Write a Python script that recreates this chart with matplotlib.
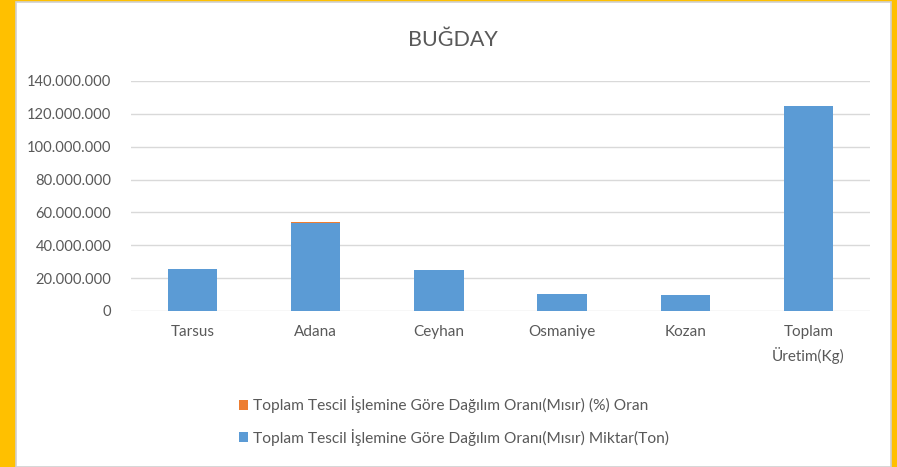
import matplotlib.pyplot as plt
from matplotlib.patches import Rectangle

plt.rcParams['font.family'] = ['Lato', 'DejaVu Sans']

# data
categories = ['Tarsus', 'Adana', 'Ceyhan', 'Osmaniye', 'Kozan', 'Toplam\nÜretim(Kg)']
miktar = [25600000, 53600000, 25000000, 10400000, 9800000, 124800000]
oran = [0, 300000, 0, 0, 0, 0]
yticks = [0, 20000000, 40000000, 60000000, 80000000, 100000000, 120000000, 140000000]

blue = '#5B9BD5'
orange = '#ED7D31'
txt = '#595959'
grid = '#D9D9D9'

fig = plt.figure(figsize=(8.97, 4.67), dpi=100)
fig.patch.set_facecolor('#FFC000')

# white chart panel inside the yellow frame
W, H = 897, 467
panel = Rectangle((16 / W, 0), (891 - 16) / W, (465 - 0) / H, transform=fig.transFigure,
                  facecolor='white', edgecolor='#D0D0D0', linewidth=1.2, zorder=-10)
fig.patches.append(panel)

ax = fig.add_axes([131 / W, 1 - 311 / H, (870 - 131) / W, (311 - 81) / H])
ax.set_facecolor('none')

x = range(len(categories))
ax.bar(x, miktar, width=0.4, color=blue, zorder=3,
       label='Toplam Tescil İşlemine Göre Dağılım Oranı(Mısır) Miktar(Ton)')
ax.bar(x, oran, width=0.4, bottom=miktar, color=orange, zorder=3,
       label='Toplam Tescil İşlemine Göre Dağılım Oranı(Mısır) (%) Oran')

ax.set_xlim(-0.5, len(categories) - 0.5)
ax.set_ylim(0, 140000000)
ax.set_yticks(yticks)
ax.set_yticklabels([f'{v:,}'.replace(',', '.') for v in yticks])
ax.set_xticks(list(x))
ax.set_xticklabels(categories, linespacing=1.55, va='top')
ax.tick_params(length=0, colors=txt, labelsize=11)
ax.tick_params(axis='y', pad=14, labelsize=10.6)
ax.tick_params(axis='x', pad=10)
ax.grid(axis='y', color=grid, linewidth=1, zorder=0)
for s in ax.spines.values():
    s.set_visible(False)

fig.text(453 / W, 1 - 40 / H, 'BUĞDAY', ha='center', va='center', fontsize=15.5, color=txt)

handles, labels = ax.get_legend_handles_labels()
leg = fig.legend(handles[::-1], labels[::-1], loc='center', bbox_to_anchor=(454 / W, 1 - 421 / H),
                 ncol=1, frameon=False, fontsize=11.2, labelcolor=txt, handlelength=0.6,
                 handleheight=0.6, handletextpad=0.3, labelspacing=1.0)

fig.savefig('out.png', dpi=100, facecolor=fig.get_facecolor())
